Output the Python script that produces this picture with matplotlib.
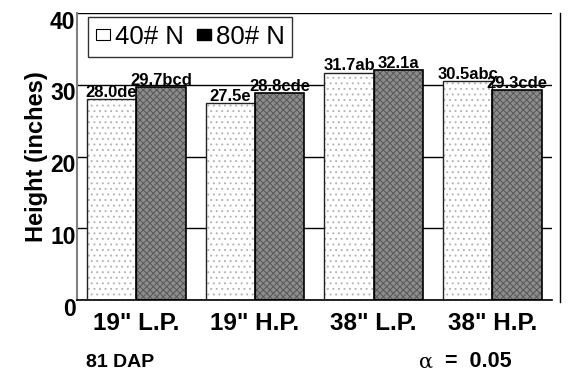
import matplotlib.pyplot as plt
from matplotlib.lines import Line2D
from matplotlib.patches import Patch
from matplotlib.transforms import ScaledTranslation
import numpy as np

plt.rcParams['font.family'] = ['Liberation Sans', 'DejaVu Sans']
plt.rcParams['hatch.linewidth'] = 0.7

# Plant height at 81 DAP, by row spacing / population.
groups = ['19" L.P.', '19" H.P.', '38" L.P.', '38" H.P.']
n40 = [28.0, 27.5, 31.7, 30.5]
n80 = [29.7, 28.8, 32.1, 29.3]
n40_lab = ['28.0de', '27.5e', '31.7ab', '30.5abc']
n80_lab = ['29.7bcd', '28.8cde', '32.1a', '29.3cde']

fig = plt.figure(figsize=(5.7, 3.75), dpi=100)
ax = fig.add_axes([0.135, 0.2, 0.833, 0.765])

x = np.arange(len(groups))
w = 0.415

# fill + texture first (hatch takes the edge colour), then the black outlines
ax.bar(x - w / 2, n40, w, color='white', edgecolor='#b4b4b4', linewidth=0,
       hatch='...', zorder=2)
ax.bar(x + w / 2, n80, w, color='#8c8c8c', edgecolor='#585858', linewidth=0,
       hatch='xxxxx', zorder=2)
ax.bar(x - w / 2, n40, w, fill=False, edgecolor='#222222', linewidth=1.0, zorder=3)
ax.bar(x + w / 2, n80, w, fill=False, edgecolor='black', linewidth=1.2, zorder=3)

# Value + letter group labels on top of each bar.
for xi, v, s in zip(x - w / 2, n40, n40_lab):
    ax.text(xi, v + 0.3, s, ha='center', va='baseline', fontsize=12,
            fontweight='bold', zorder=4)
for xi, v, s in zip(x + w / 2, n80, n80_lab):
    ax.text(xi, v + 0.3, s, ha='center', va='baseline', fontsize=12,
            fontweight='bold', zorder=4)

ax.set_xlim(-0.5, 3.5)
ax.set_ylim(0, 40)
ax.set_yticks([0, 10, 20, 30, 40])
ax.set_xticks(x)
ax.set_xticklabels(groups, fontsize=17.5, fontweight='bold')
ax.tick_params(axis='both', length=0)
ax.tick_params(axis='y', pad=1, labelsize=16.5)
ax.tick_params(axis='x', pad=9)
for lab in ax.get_yticklabels():
    lab.set_fontweight('bold')
    lab.set_transform(lab.get_transform() + ScaledTranslation(0, -0.065, fig.dpi_scale_trans))

ax.yaxis.grid(True, color='black', linewidth=1.0, zorder=0)
ax.set_axisbelow(True)
for sp in ['top', 'right']:
    ax.spines[sp].set_visible(False)
ax.spines['left'].set_color('#808080')
ax.spines['left'].set_linewidth(1.5)
ax.spines['bottom'].set_linewidth(1.2)

ax.set_ylabel('Height (inches)', fontsize=17, fontweight='bold')
ax.yaxis.set_label_coords(-0.06, 0.5)

# Separate frame line on the right.
fig.add_artist(Line2D([0.982, 0.982], [0.195, 0.965], color='black', linewidth=1.0))

handles = [Patch(facecolor='white', edgecolor='black', linewidth=0.8),
           Patch(facecolor='black', edgecolor='black')]
leg = ax.legend(handles, ['40# N', '80# N'], loc='upper left', ncol=2,
                bbox_to_anchor=(0.023, 0.986), fontsize=18.5, frameon=True,
                fancybox=False, handlelength=0.55, handleheight=0.3,
                handletextpad=0.2, columnspacing=0.5, borderpad=0.3,
                borderaxespad=0.0)
leg.get_frame().set_edgecolor('black')
leg.get_frame().set_linewidth(1.0)

fig.text(0.151, 0.021, '81 DAP', fontsize=14, fontweight='bold', va='baseline')
fig.text(0.735, 0.021, 'α', fontsize=15, family='DejaVu Serif', va='baseline')
fig.text(0.78, 0.021, '=  0.05', fontsize=15.5, fontweight='bold', va='baseline')

fig.savefig('out.png', dpi=100)
